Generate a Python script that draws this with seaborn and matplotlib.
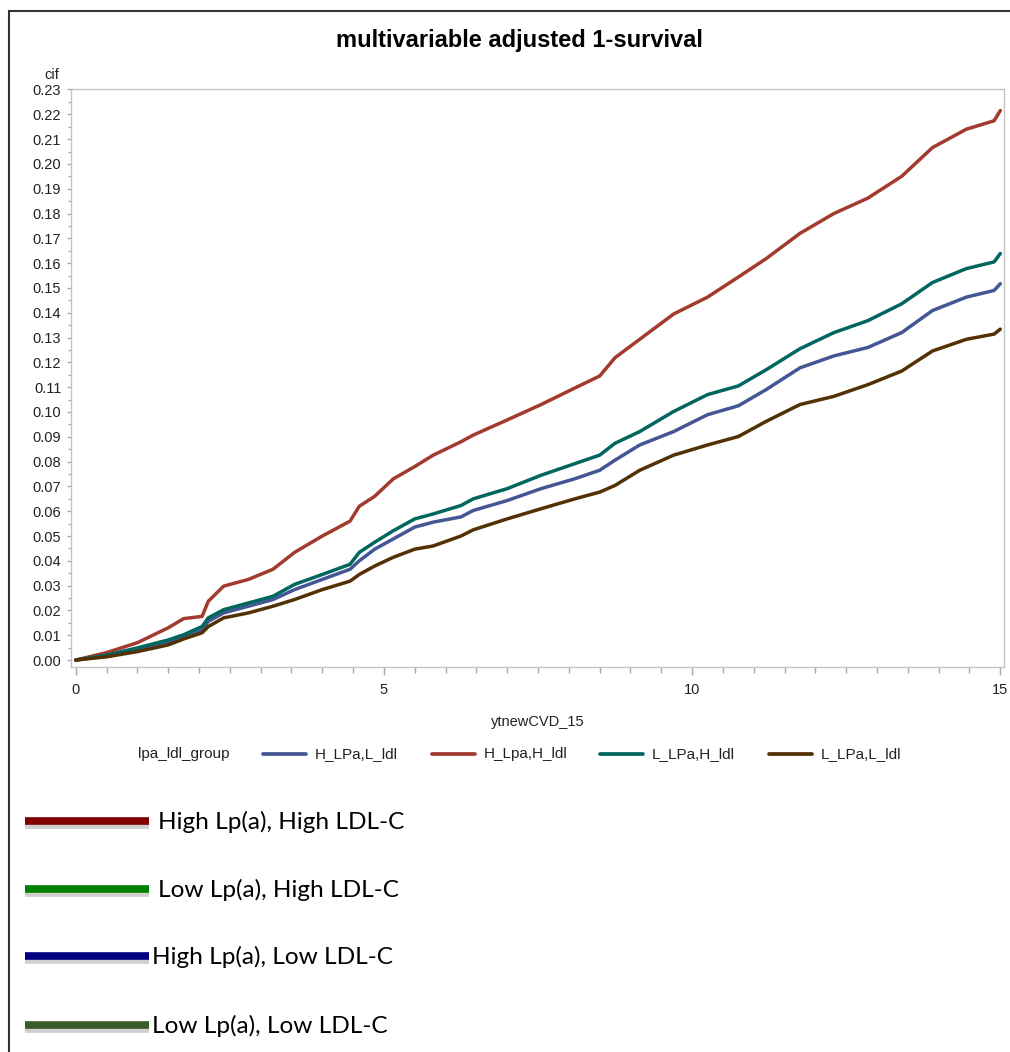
import numpy as np
import pandas as pd
import seaborn as sns
import matplotlib
matplotlib.use('Agg')
import matplotlib.pyplot as plt
from matplotlib.lines import Line2D
from matplotlib.ticker import MultipleLocator, FormatStrFormatter

# values (time in years, cumulative incidence)
time = [0, 0.5, 1.0, 1.5, 1.75, 2.05, 2.15, 2.4, 2.8, 3.2, 3.55, 4.0, 4.45, 4.6,
        4.85, 5.15, 5.5, 5.8, 6.25, 6.45, 7.0, 7.55, 8.1, 8.5, 8.75, 9.15, 9.7,
        10.25, 10.75, 11.2, 11.75, 12.3, 12.85, 13.4, 13.9, 14.45, 14.9, 15.0]

h_lpa_l_ldl = [0, 0.0018, 0.004, 0.007, 0.009, 0.012, 0.0156, 0.019, 0.0217, 0.0244,
               0.0284, 0.0325, 0.0366, 0.040, 0.0447, 0.0488, 0.0536, 0.0556, 0.0577,
               0.0603, 0.0643, 0.0691, 0.0731, 0.0765, 0.0806, 0.0867, 0.0921, 0.0989,
               0.1025, 0.109, 0.1178, 0.1226, 0.126, 0.132, 0.1409, 0.1463, 0.149, 0.1517]

h_lpa_h_ldl = [0, 0.003, 0.007, 0.013, 0.0167, 0.0176, 0.0237, 0.0298, 0.0325, 0.0366,
               0.0434, 0.050, 0.056, 0.062, 0.066, 0.073, 0.078, 0.0826, 0.088, 0.0907,
               0.0968, 0.103, 0.1097, 0.1145, 0.1219, 0.1293, 0.1395, 0.1463, 0.1544,
               0.1618, 0.172, 0.180, 0.1862, 0.195, 0.2066, 0.214, 0.2174, 0.2215]

l_lpa_h_ldl = [0, 0.002, 0.0049, 0.0081, 0.0102, 0.0135, 0.017, 0.0203, 0.023, 0.0257,
               0.0305, 0.0345, 0.0386, 0.0434, 0.0475, 0.0521, 0.0569, 0.0589, 0.0623,
               0.065, 0.0691, 0.0745, 0.0792, 0.0826, 0.0874, 0.0921, 0.1002, 0.107,
               0.1105, 0.117, 0.1255, 0.132, 0.1368, 0.1436, 0.1522, 0.1578, 0.1605, 0.1639]

l_lpa_l_ldl = [0, 0.0013, 0.0034, 0.0061, 0.0085, 0.011, 0.0135, 0.017, 0.019, 0.0217,
               0.0244, 0.0284, 0.0318, 0.0345, 0.0379, 0.0414, 0.0447, 0.046, 0.050,
               0.0525, 0.0569, 0.061, 0.065, 0.0677, 0.0704, 0.0765, 0.0826, 0.0867,
               0.0901, 0.0962, 0.103, 0.1063, 0.111, 0.1165, 0.1246, 0.1293, 0.1314, 0.1334]

groups = ['H_LPa,L_ldl', 'H_Lpa,H_ldl', 'L_LPa,H_ldl', 'L_LPa,L_ldl']
sas_colors = ['#445694', '#A23A2E', '#01665E', '#543005']

custom_labels = ['High Lp(a), High LDL-C', 'Low Lp(a), High LDL-C',
                 'High Lp(a), Low LDL-C', 'Low Lp(a), Low LDL-C']
custom_colors = ['#800000', '#008000', '#000080', '#3C5A2A']

# long format table for seaborn
series = [h_lpa_l_ldl, h_lpa_h_ldl, l_lpa_h_ldl, l_lpa_l_ldl]
df = pd.DataFrame({
    'ytnewCVD_15': time * 4,
    'cif': np.concatenate(series),
    'lpa_ldl_group': np.repeat(groups, len(time)),
})

sns.set_theme(style='white')
plt.rcParams['font.family'] = ['Liberation Sans', 'DejaVu Sans']

W, H = 1010, 1052
fig = plt.figure(figsize=(W / 100, H / 100), dpi=100)

def fx(px):
    return px / W

def fy(py):
    return 1 - py / H

ax = fig.add_axes([fx(71), fy(667), fx(1004) - fx(71), fy(89) - fy(667)])
sns.lineplot(data=df, x='ytnewCVD_15', y='cif', hue='lpa_ldl_group',
             hue_order=groups, palette=dict(zip(groups, sas_colors)),
             linewidth=2.5, legend=False, ax=ax)

ax.set_xlim(-0.077, 15.06)
ax.set_ylim(-0.0028, 0.2302)
ax.xaxis.set_major_locator(MultipleLocator(5))
ax.xaxis.set_minor_locator(MultipleLocator(0.5))
ax.yaxis.set_major_locator(MultipleLocator(0.01))
ax.yaxis.set_minor_locator(MultipleLocator(0.005))
ax.yaxis.set_major_formatter(FormatStrFormatter('%.2f'))
ax.xaxis.set_major_formatter(FormatStrFormatter('%d'))

ax.tick_params(axis='both', which='both', direction='out', color='#a8a8a8',
               width=1, bottom=True, left=True, labelcolor='#222222', labelsize=10.5)
ax.tick_params(axis='x', which='major', length=5.5, pad=6)
ax.tick_params(axis='x', which='minor', length=4)
ax.tick_params(axis='y', which='major', length=3, pad=4)
ax.tick_params(axis='y', which='minor', length=2)
for sp in ax.spines.values():
    sp.set_color('#c4c4c4')
    sp.set_linewidth(1)

ax.set_ylabel('')
ax.set_xlabel('ytnewCVD_15', fontsize=10.5, color='#222222', labelpad=13)
fig.text(fx(52), fy(75), 'cif', fontsize=10.5, color='#222222', ha='center', va='center')

fig.text(fx(519), fy(40), 'multivariable adjusted 1-survival', fontsize=17,
         fontweight='bold', ha='center', va='center', color='black')

# SAS style legend row
fig.text(fx(138), fy(754), 'lpa_ldl_group', fontsize=11, ha='left', va='center',
         color='#222222')
legend_x = [263, 432, 600, 769]
for x0, name, col in zip(legend_x, groups, sas_colors):
    fig.add_artist(Line2D([fx(x0), fx(x0 + 43)], [fy(754), fy(754)],
                          transform=fig.transFigure, color=col, linewidth=2.7))
    fig.text(fx(x0 + 52), fy(754), name, fontsize=11, ha='left', va='center',
             color='#222222')

# added legend with shadowed thick lines
row_y = [821, 889, 956, 1025]
text_x = [158, 158, 152, 152]
for yy, tx, lab, col in zip(row_y, text_x, custom_labels, custom_colors):
    fig.add_artist(Line2D([fx(25), fx(149)], [fy(yy + 4), fy(yy + 4)],
                          transform=fig.transFigure, color='#cfcfcf', linewidth=5.5,
                          solid_capstyle='butt'))
    fig.add_artist(Line2D([fx(25), fx(149)], [fy(yy), fy(yy)],
                          transform=fig.transFigure, color=col, linewidth=5.5,
                          solid_capstyle='butt'))
    fig.text(fx(tx), fy(yy + 1), lab, fontsize=17.6, family=['Lato', 'DejaVu Sans'],
             ha='left', va='center', color='black')

# outer frame (top and left)
fig.add_artist(Line2D([fx(9), fx(1010)], [fy(11), fy(11)], transform=fig.transFigure,
                      color='#333333', linewidth=1.5))
fig.add_artist(Line2D([fx(9), fx(9)], [fy(11), fy(1052)], transform=fig.transFigure,
                      color='#333333', linewidth=1.5))

fig.savefig('out.png', dpi=100)
